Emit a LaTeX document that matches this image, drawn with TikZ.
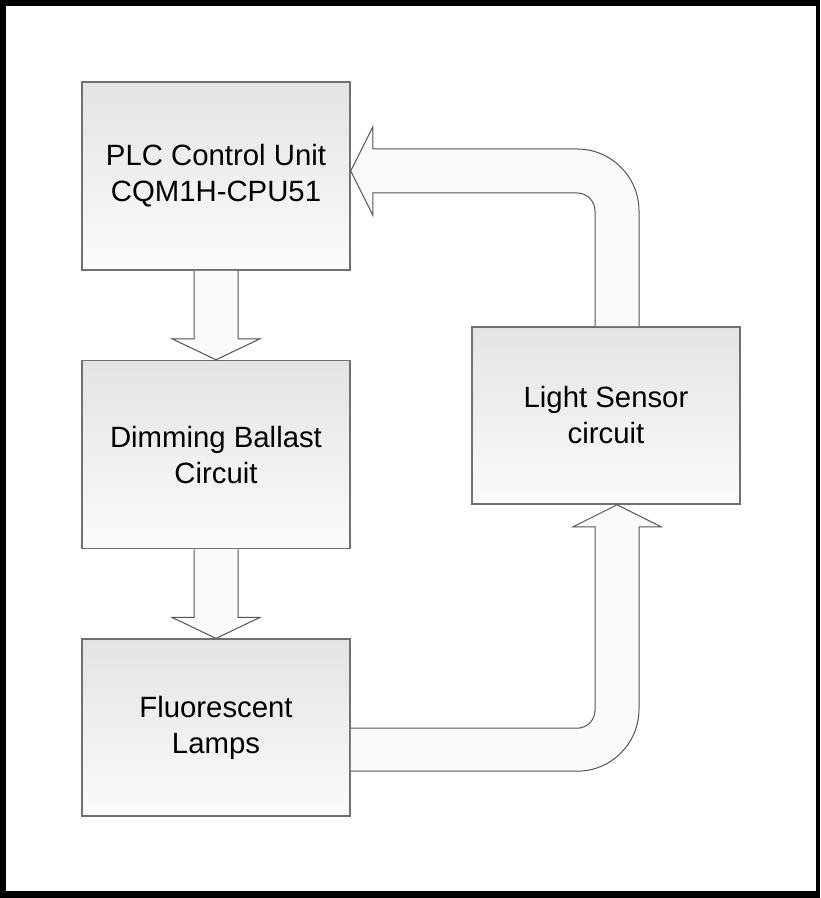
\documentclass[tikz,border=0pt]{standalone}
\usepackage{fontspec}
\setmainfont{Liberation Sans}
\usepackage{tikz}
\usetikzlibrary{positioning,calc}
\definecolor{boxtop}{RGB}{228,228,228}
\definecolor{boxbottom}{RGB}{251,251,251}
\definecolor{boxedge}{RGB}{112,112,112}
\definecolor{arrowedge}{RGB}{85,85,85}
\definecolor{arrowfill}{RGB}{250,250,250}
\tikzset{
 block/.style={
 rectangle,
 draw=boxedge,
 line width=1.2pt,
 top color=boxtop,
 bottom color=boxbottom,
 align=center,
 minimum width=201pt,
 minimum height=141pt,
 inner sep=0pt,
 font=\fontsize{22}{27}\selectfont
 },
 blockarrow/.style={draw=arrowedge, fill=arrowfill, line width=0.75pt, line join=miter}
}

\begin{document}
\begin{tikzpicture}[x=0.75pt, y=-0.75pt, node distance=66.75pt]
 \useasboundingbox (0,0) rectangle (820,898);
 \fill[black] (0,0) rectangle (820,898);
 \fill[white] (6,6) rectangle (816,891);

 \node[block] (plc) at (216,176) {PLC Control Unit\\CQM1H-CPU51};
 \node[block, below=of plc] (ballast) {Dimming Ballast\\Circuit};
 \node[block, below=of ballast, minimum height=132.75pt] (lamps) {Fluorescent\\Lamps};
 \node[block, minimum height=132.75pt] (sensor) at (606,415.5) {Light Sensor\\circuit};

 \draw[blockarrow] ($(plc.south)+(-22,0)$) -- ($(ballast.north)+(-22,-21)$) -- ($(ballast.north)+(-44,-21)$) -- (ballast.north) -- ($(ballast.north)+(44,-21)$) -- ($(ballast.north)+(22,-21)$) -- ($(plc.south)+(22,0)$);
 \draw[blockarrow] ($(ballast.south)+(-22,0)$) -- ($(lamps.north)+(-22,-21)$) -- ($(lamps.north)+(-44,-21)$) -- (lamps.north) -- ($(lamps.north)+(44,-21)$) -- ($(lamps.north)+(22,-21)$) -- ($(ballast.south)+(22,0)$);
 \draw[blockarrow] ($(lamps.east)+(0,43.5)$) -- ($(sensor.south |- lamps.east)+(-29,43.5)$) arc[start angle=-90, end angle=0, radius=46.5pt] -- ($(sensor.south)+(33,22)$) -- ($(sensor.south)+(55,22)$) -- ($(sensor.south)+(11,0)$) -- ($(sensor.south)+(-33,22)$) -- ($(sensor.south)+(-11,22)$) -- ($(sensor.south |- lamps.east)+(-11,-17.5)$) arc[start angle=0, end angle=-90, radius=13.5pt] -- ($(lamps.east)+(0,0.5)$);
 \draw[blockarrow] ($(sensor.north)+(33,0)$) -- ($(sensor.north |- plc.east)+(33,35)$) arc[start angle=0, end angle=90, radius=46.5pt] -- ($(plc.east)+(22,-27)$) -- ($(plc.east)+(22,-49)$) -- ($(plc.east)+(0,-5)$) -- ($(plc.east)+(22,39)$) -- ($(plc.east)+(22,17)$) -- ($(sensor.north |- plc.east)+(-29,17)$) arc[start angle=90, end angle=0, radius=13.5pt] -- ($(sensor.north)+(-11,0)$);
\end{tikzpicture}
\end{document}
